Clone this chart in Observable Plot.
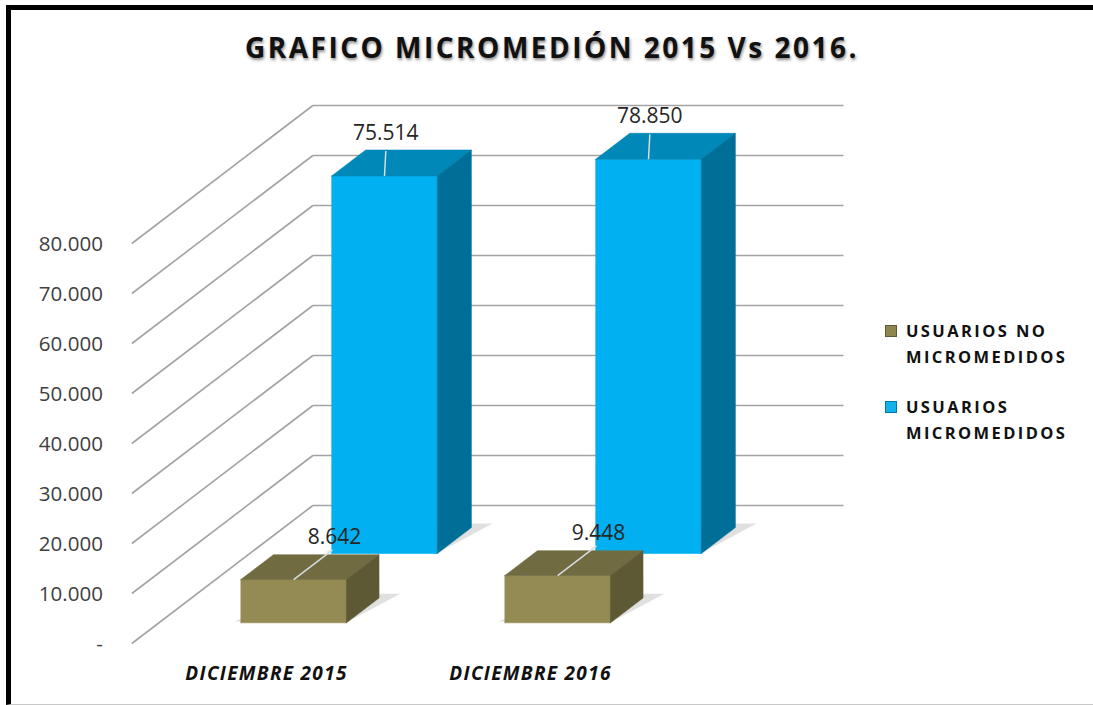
<!DOCTYPE html>
<html>
<head>
<meta charset="utf-8">
<script src="https://cdn.jsdelivr.net/npm/d3@7"></script>
<script src="https://cdn.jsdelivr.net/npm/@observablehq/plot@0.6"></script>
<style>
  html, body { margin: 0; padding: 0; background: #fff; }
  #frame {
    position: absolute; left: 6px; top: 5px; width: 1082px; height: 694px;
    border-top: 5px solid #000; border-left: 5px solid #000; border-bottom: 1px solid #c8c8c8;
    font-family: "Open Sans", sans-serif; overflow: hidden;
  }
  #title {
    position: absolute; left: 0; top: 23px; width: 1082px; text-align: center;
    font-size: 28px; line-height: 28px; font-weight: 700; letter-spacing: 2.5px; color: #111;
    text-shadow: 1px 2px 3px rgba(0,0,0,0.45);
  }
  #chart { position: absolute; left: 0; top: 70px; }
  #legend { position: absolute; left: 874px; top: 308px; }
  .item { display: flex; align-items: flex-start; margin-bottom: 24px; }
  .sw { width: 12px; height: 12px; margin-top: 7px; margin-right: 9px; box-sizing: border-box; }
  .lt { font-size: 16.5px; line-height: 26px; font-weight: 700; letter-spacing: 2.4px; color: #111; }
</style>
</head>
<body>
<div id="frame">
  <div id="title">GRAFICO MICROMEDIÓN 2015 Vs 2016.</div>
  <div id="chart"></div>
  <div id="legend"></div>
</div>
<script>
// ---- data ----
const categories = ["DICIEMBRE 2015", "DICIEMBRE 2016"];
const seriesNames = ["USUARIOS NO MICROMEDIDOS", "USUARIOS MICROMEDIDOS"];
const noMicromedidos = [8642, 9448];
const micromedidos = [75514, 78850];
const tickValues = [0, 10000, 20000, 30000, 40000, 50000, 60000, 70000, 80000];
const tickLabels = ["-", "10.000", "20.000", "30.000", "40.000", "50.000", "60.000", "70.000", "80.000"];

// ---- styles / 3D projection settings ----
const DX = 0.6856, DY = 27600;          // oblique offset for full depth (data units)
const wallLeft = -0.51, wallRight = 1.5;
const halfW = 0.2;
const proj = (x, y, d) => ({x: x + d * DX, y: y + d * DY});
const fmt = v => d3.format(",")(v).replace(/,/g, ".");

const series = [
  {name: seriesNames[0], values: noMicromedidos, d0: 0.15, d1: 0.33,
   front: "#948A54", top: "#716B41", side: "#5E5935", leader: "diag", ldx: 2, ldy: -6},
  {name: seriesNames[1], values: micromedidos, d0: 0.652, d1: 0.84,
   front: "#00B0F0", top: "#0088B8", side: "#006F98", leader: "up", ldx: 0, ldy: -11}
];

// gridlines
const backLines = tickValues.map(t => {
  const a = proj(wallLeft, t, 1), b = proj(wallRight, t, 1);
  return {x1: a.x, y1: a.y, x2: b.x, y2: b.y};
});
const sideLines = tickValues.map(t => {
  const a = proj(wallLeft, t, 0), b = proj(wallLeft, t, 1);
  return {x1: a.x, y1: a.y, x2: b.x, y2: b.y};
});
const tickText = tickValues.map((t, k) => ({x: wallLeft, y: t, label: tickLabels[k]}));

const marks = [
  Plot.link(backLines, {x1: "x1", y1: "y1", x2: "x2", y2: "y2", stroke: "#a3a3a3", strokeWidth: 1.6}),
  Plot.link(sideLines, {x1: "x1", y1: "y1", x2: "x2", y2: "y2", stroke: "#a3a3a3", strokeWidth: 1.6}),
  Plot.text(tickText, {x: "x", y: "y", text: "label", textAnchor: "end", dx: -29, dy: 1,
    fontSize: 20.5, fill: "#404040"})
];

// back series first, then front series
for (const s of [series[1], series[0]]) {
  const front = [], top = [], side = [], shadow = [], leaders = [], valueText = [];
  s.values.forEach((v, i) => {
    const id = s.name + i;
    const pf = [[i - halfW, 0, s.d0], [i + halfW, 0, s.d0], [i + halfW, v, s.d0], [i - halfW, v, s.d0], [i - halfW, 0, s.d0]];
    const pt = [[i - halfW, v, s.d0], [i + halfW, v, s.d0], [i + halfW, v, s.d1], [i - halfW, v, s.d1], [i - halfW, v, s.d0]];
    const ps = [[i + halfW, 0, s.d0], [i + halfW, 0, s.d1], [i + halfW, v, s.d1], [i + halfW, v, s.d0], [i + halfW, 0, s.d0]];
    const ph = [[i - halfW - 0.03, 0, s.d0 + 0.01], [i + halfW, 0, s.d0 + 0.01], [i + halfW + 0.06, 0, s.d1 + 0.03], [i - halfW + 0.06, 0, s.d1 + 0.03], [i - halfW - 0.03, 0, s.d0 + 0.01]];
    pf.forEach(p => front.push({id, ...proj(...p)}));
    pt.forEach(p => top.push({id, ...proj(...p)}));
    ps.forEach(p => side.push({id, ...proj(...p)}));
    ph.forEach(p => shadow.push({id, ...proj(...p)}));
    const a = proj(i, v, s.d0);
    const b = s.leader === "diag" ? proj(i, v, s.d0 + 0.215) : proj(i + 0.005, v + 5000, s.d0);
    leaders.push({x1: a.x, y1: a.y, x2: b.x, y2: b.y});
    valueText.push({x: b.x, y: b.y, label: fmt(v)});
  });
  marks.push(
    Plot.line(shadow, {x: "x", y: "y", z: "id", fill: "#000", fillOpacity: 0.12, stroke: null,
      style: {filter: "blur(3px)"}}),
    Plot.line(front, {x: "x", y: "y", z: "id", fill: s.front, stroke: s.front, strokeWidth: 0.6}),
    Plot.line(top, {x: "x", y: "y", z: "id", fill: s.top, stroke: s.top, strokeWidth: 0.6}),
    Plot.line(side, {x: "x", y: "y", z: "id", fill: s.side, stroke: s.side, strokeWidth: 0.6}),
    Plot.link(leaders, {x1: "x1", y1: "y1", x2: "x2", y2: "y2", stroke: "#d6dde2", strokeWidth: 1.5}),
    Plot.text(valueText, {x: "x", y: "y", text: "label", lineAnchor: "bottom", dx: s.ldx, dy: s.ldy,
      fontSize: 21, fill: "#262626"})
  );
}
marks.push(
  Plot.text(categories.map((c, i) => ({x: i, y: 0, label: c})), {x: "x", y: "y", text: "label",
    dy: 30, dx: 0, fontSize: 19, fontWeight: 700, fontStyle: "italic", fill: "#111", className: "cat"})
);

const chart = Plot.plot({
  width: 1082, height: 624,
  marginLeft: 0, marginRight: 0, marginTop: 0, marginBottom: 0,
  x: {type: "linear", domain: [0, 1], range: [255, 519], axis: null},
  y: {type: "linear", domain: [0, 80000], range: [563, 163], axis: null},
  style: {fontFamily: "'Open Sans', sans-serif", background: "transparent", overflow: "visible"},
  marks
});
chart.querySelectorAll(".cat text").forEach(t => t.style.letterSpacing = "1.3px");
document.getElementById("chart").appendChild(chart);

// legend
const legendColors = [{fill: "#8E8550", border: "#5E5935"}, {fill: "#14B2EC", border: "#0079A6"}];
const legendLines = [["USUARIOS NO", "MICROMEDIDOS"], ["USUARIOS", "MICROMEDIDOS"]];
const legend = document.getElementById("legend");
seriesNames.forEach((n, k) => {
  const item = document.createElement("div");
  item.className = "item";
  const sw = document.createElement("div");
  sw.className = "sw";
  sw.style.background = legendColors[k].fill;
  sw.style.border = "1px solid " + legendColors[k].border;
  const t = document.createElement("div");
  t.className = "lt";
  t.innerHTML = legendLines[k].join("<br>");
  item.appendChild(sw); item.appendChild(t);
  legend.appendChild(item);
});
</script>
</body>
</html>
